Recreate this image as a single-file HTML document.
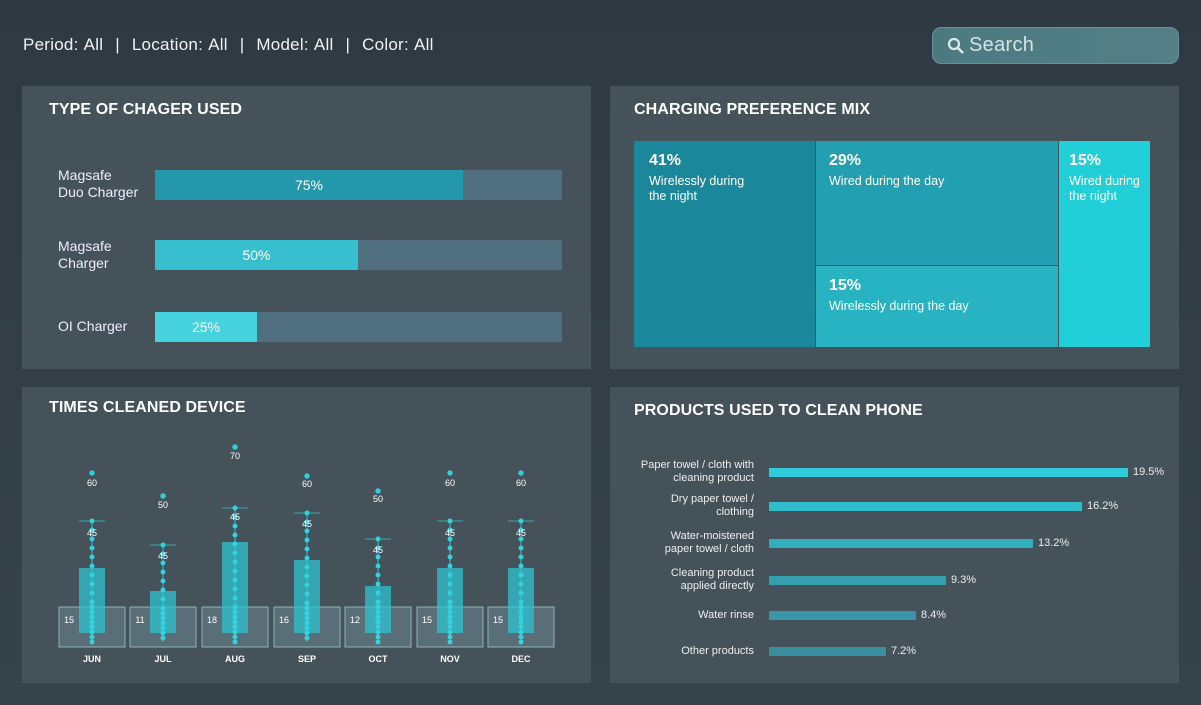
<!DOCTYPE html>
<html><head><meta charset="utf-8"><style>
body{margin:0;width:1201px;height:705px;overflow:hidden;font-family:"Liberation Sans",sans-serif;color:#fff;
background:linear-gradient(180deg,#2f3942 0%,#37434b 100%);position:relative}
.a{position:absolute}
.panel{position:absolute;background:#45525a}
.title{position:absolute;font-size:16px;font-weight:bold;letter-spacing:0.1px}
.lbl{position:absolute;font-size:14px;line-height:17px;color:#eef}
.track{position:absolute;left:155px;width:407px;height:30px;background:#4f6f7e}
.fill{position:absolute;left:0;top:0;height:30px;text-align:center;line-height:30px;font-size:14px}
.tm{position:absolute;box-sizing:border-box;padding:12px 15px;font-size:12.5px;line-height:15px}
.tm b{display:block;font-size:16px;margin-bottom:6px}
.rl{position:absolute;right:447px;text-align:right;font-size:11px;line-height:13px;color:#eee;width:150px}
.rb{position:absolute;left:769px;height:9px}
.rv{position:absolute;font-size:11px;color:#eee}
</style></head><body>
<div class="a" style="left:23px;top:35px;font-size:17px;color:#eef2f4;letter-spacing:0.25px;word-spacing:1px">Period: All &nbsp;| &nbsp;Location: All &nbsp;| &nbsp;Model: All &nbsp;| &nbsp;Color: All</div>
<div class="a" style="left:932px;top:27px;width:247px;height:37px;border-radius:9px;background:linear-gradient(90deg,#4a7a80,#557f86);border:1px solid #6a9096;box-sizing:border-box"></div>
<svg class="a" style="left:947px;top:37px" width="18" height="18"><circle cx="7" cy="7" r="5" stroke="#dfe8ea" stroke-width="2.2" fill="none"/><line x1="11" y1="11" x2="16" y2="16" stroke="#dfe8ea" stroke-width="2.5"/></svg>
<div class="a" style="left:969px;top:34px;font-size:20px;color:#d6e2e4;letter-spacing:0.3px">Search</div>

<div class="panel" style="left:22px;top:86px;width:569px;height:283px"></div>
<div class="panel" style="left:610px;top:86px;width:569px;height:283px"></div>
<div class="panel" style="left:22px;top:387px;width:569px;height:296px"></div>
<div class="panel" style="left:610px;top:387px;width:569px;height:296px"></div>

<div class="title" style="left:49px;top:101px">TYPE OF CHAGER USED</div>
<div class="lbl" style="left:58px;top:167px">Magsafe<br>Duo Charger</div>
<div class="lbl" style="left:58px;top:238px">Magsafe<br>Charger</div>
<div class="lbl" style="left:58px;top:318px">OI Charger</div>
<div class="track" style="top:170px"><div class="fill" style="width:308px;background:#2398ad">75%</div></div>
<div class="track" style="top:240px"><div class="fill" style="width:203px;background:#37bfd0">50%</div></div>
<div class="track" style="top:312px"><div class="fill" style="width:102px;background:#46d3df">25%</div></div>

<div class="title" style="left:634px;top:101px">CHARGING PREFERENCE MIX</div>
<div class="tm" style="left:634px;top:141px;width:181px;height:206px;background:#1a889a;padding-right:55px"><b>41%</b>Wirelessly during the night</div>
<div class="tm" style="left:816px;top:141px;width:242px;height:124px;background:#22a0b2;padding-left:13px"><b>29%</b>Wired during the day</div>
<div class="tm" style="left:816px;top:266px;width:242px;height:81px;background:#27b3c2;padding-left:13px"><b>15%</b>Wirelessly during the day</div>
<div class="tm" style="left:1059px;top:141px;width:91px;height:206px;background:#20cfd7;padding-left:10px;padding-right:4px"><b>15%</b>Wired during the night</div>

<div class="title" style="left:49px;top:399px">TIMES CLEANED DEVICE</div>
<svg id="ch" class="a" style="left:0;top:0" width="600" height="700" font-family="Liberation Sans,sans-serif">
<g font-size="9" fill="#fff" text-anchor="middle" font-weight="bold">
<text x="92" y="662">JUN</text><text x="163" y="662">JUL</text><text x="235" y="662">AUG</text><text x="307" y="662">SEP</text><text x="378" y="662">OCT</text><text x="450" y="662">NOV</text><text x="521" y="662">DEC</text>
</g>
<g id="dyn"></g>
<g font-size="9" fill="#fff" text-anchor="middle">
<text x="92" y="486">60</text><text x="163" y="508">50</text><text x="235" y="459">70</text><text x="307" y="487">60</text><text x="378" y="502">50</text><text x="450" y="486">60</text><text x="521" y="486">60</text>
<text x="92" y="536">45</text><text x="163" y="559">45</text><text x="235" y="520">45</text><text x="307" y="527">45</text><text x="378" y="553">45</text><text x="450" y="536">45</text><text x="521" y="536">45</text>
<text x="69" y="623">15</text><text x="140" y="623">11</text><text x="212" y="623">18</text><text x="284" y="623">16</text><text x="355" y="623">12</text><text x="427" y="623">15</text><text x="498" y="623">15</text>
</g>
</svg>
<script>
var d=[[92,568,521,473],[163,591,545,496],[235,542,508,447],[307,560,513,476],[378,586,539,491],[450,568,521,473],[521,568,521,473]];
var s='';
d.forEach(function(m){var x=m[0];
s+='<rect x="'+(x-33)+'" y="607" width="66" height="40" fill="#8ab0bc" fill-opacity="0.3" stroke="#8fb1bb" stroke-width="1"/>';
s+='<rect x="'+(x-13)+'" y="'+m[1]+'" width="26" height="'+(633-m[1])+'" fill="#2fc3cf" fill-opacity="0.75"/>';
s+='<line x1="'+x+'" y1="'+m[2]+'" x2="'+x+'" y2="642" stroke="#2fc3cf" stroke-width="1"/>';
s+='<line x1="'+(x-13)+'" y1="'+m[2]+'" x2="'+(x+13)+'" y2="'+m[2]+'" stroke="#2fa9b8" stroke-width="1"/>';
s+='<circle cx="'+x+'" cy="'+m[3]+'" r="2.7" fill="#2fd0dc"/>';
for(var y=m[2];y<=642;y+=(y<600?9:5))s+='<circle cx="'+x+'" cy="'+y+'" r="2.5" fill="#33d2dd"/>';
});
document.getElementById('dyn').innerHTML=s;
</script>

<div class="title" style="left:634px;top:402px">PRODUCTS USED TO CLEAN PHONE</div>
<div class="rl" style="top:459px">Paper towel / cloth with<br>cleaning product</div>
<div class="rl" style="top:493px">Dry paper towel /<br>clothing</div>
<div class="rl" style="top:530px">Water-moistened<br>paper towel / cloth</div>
<div class="rl" style="top:567px">Cleaning product<br>applied directly</div>
<div class="rl" style="top:609px">Water rinse</div>
<div class="rl" style="top:645px">Other products</div>
<div class="rb" style="top:468px;width:359px;background:#2fcbd8"></div>
<div class="rb" style="top:502px;width:313px;background:#31bccb"></div>
<div class="rb" style="top:539px;width:264px;background:#33adbd"></div>
<div class="rb" style="top:576px;width:177px;background:#369faf"></div>
<div class="rb" style="top:611px;width:147px;background:#3996a6"></div>
<div class="rb" style="top:647px;width:117px;background:#3b8e9e"></div>
<div class="rv" style="left:1133px;top:466px">19.5%</div>
<div class="rv" style="left:1087px;top:500px">16.2%</div>
<div class="rv" style="left:1038px;top:537px">13.2%</div>
<div class="rv" style="left:951px;top:574px">9.3%</div>
<div class="rv" style="left:921px;top:609px">8.4%</div>
<div class="rv" style="left:891px;top:645px">7.2%</div>
</body></html>
